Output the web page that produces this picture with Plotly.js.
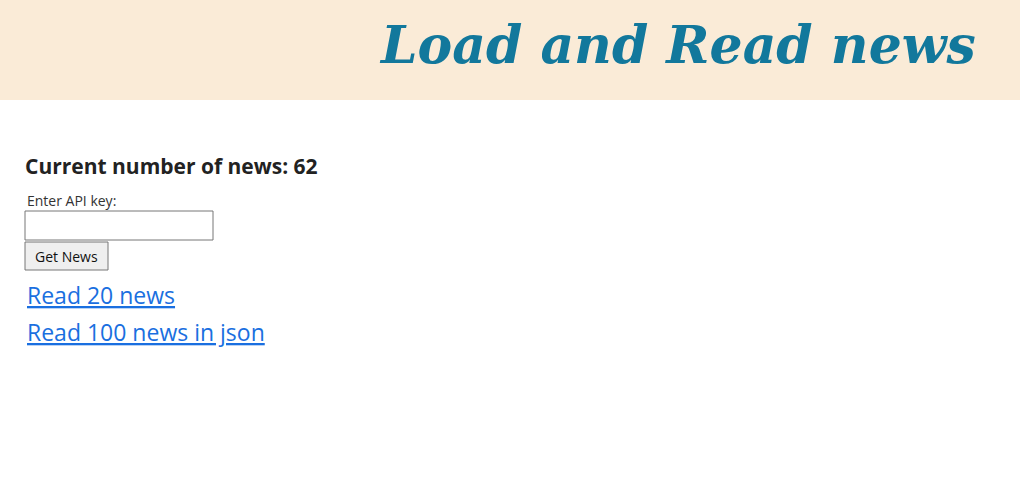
<!DOCTYPE html>
<html><head><meta charset="utf-8">
<script src="https://cdn.plot.ly/plotly-3.0.1.min.js"></script>
<style>body{margin:0}#c{width:1020px;height:494px}</style>
</head><body><div id="c"></div>
<script>
const pageTitle = "Load and Read news";
const newsCount = 62;
const linkLabels = ["Read 20 news", "Read 100 news in json"];
const inputLabel = "Enter API key:";
const buttonLabel = "Get News";

const ff = "Segoe UI, Open Sans, Noto Sans, sans-serif";
const shapes = [
  {type:"rect", x0:0, x1:1020, y0:0, y1:100, fillcolor:"#faebd7", line:{width:0}, layer:"below"},
  {type:"rect", x0:25, x1:213, y0:211, y1:240, fillcolor:"#fff", line:{color:"#767676", width:1}},
  {type:"rect", x0:25, x1:108, y0:242, y1:270, fillcolor:"#efefef", line:{color:"#767676", width:1}}
];
const ann = [
  {x:677, y:44, text:"<b><i>"+pageTitle+"</i></b>", font:{family:"DejaVu Serif", size:52, color:"#12789c"}, xanchor:"center"},
  {x:23, y:166, text:"<b>Current number of news: "+newsCount+"</b>", font:{family:ff, size:21, color:"#222"}, xanchor:"left"},
  {x:25, y:200, text:inputLabel, font:{family:ff, size:14, color:"#333"}, xanchor:"left"},
  {x:66.5, y:256, text:buttonLabel, font:{family:ff, size:14, color:"#111"}, xanchor:"center"}
];
linkLabels.forEach((t,i)=>ann.push({x:25, y:295+37*i, text:"<u>"+t+"</u>", font:{family:ff, size:23, color:"#1a6fe0"}, xanchor:"left"}));
ann.forEach(a=>{a.xref="x";a.yref="y";a.showarrow=false;a.yanchor="middle";});

Plotly.newPlot("c", [], {
  width:1020, height:494, margin:{l:0,r:0,t:0,b:0},
  paper_bgcolor:"#fff", plot_bgcolor:"#fff",
  xaxis:{range:[0,1020], visible:false, fixedrange:true},
  yaxis:{range:[494,0], visible:false, fixedrange:true},
  shapes:shapes, annotations:ann, showlegend:false
}, {staticPlot:true});
</script></body></html>
